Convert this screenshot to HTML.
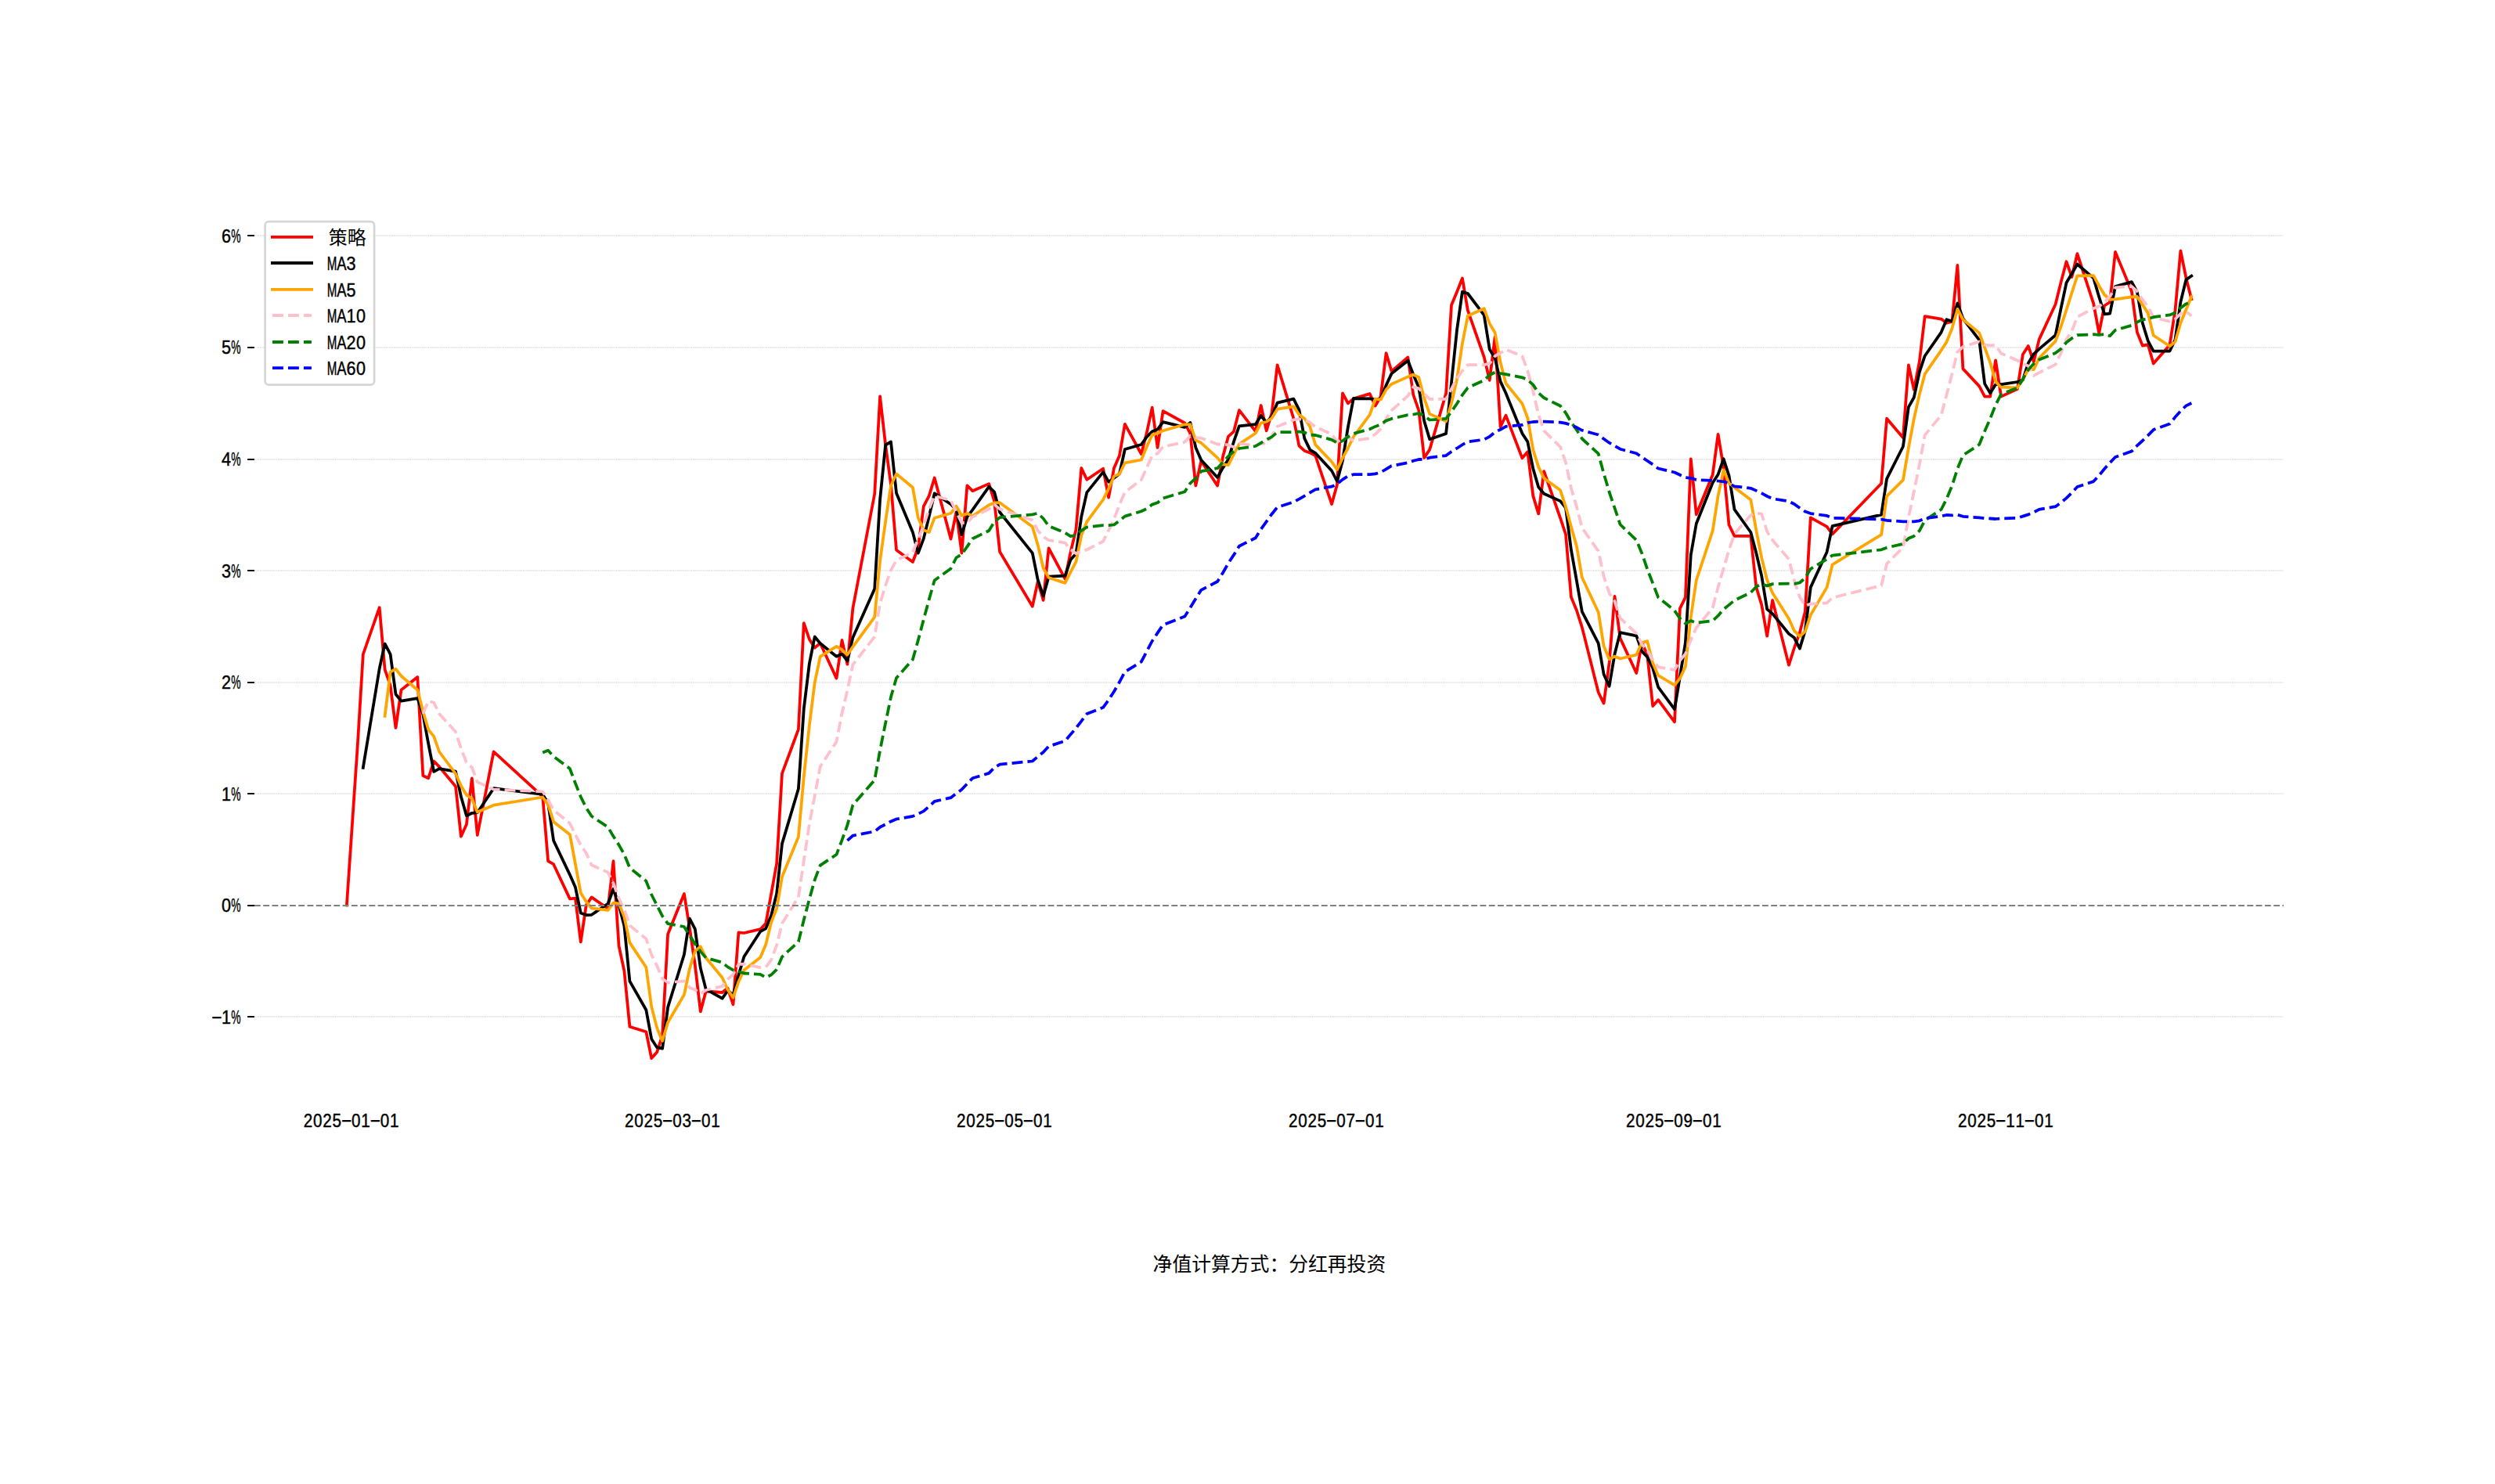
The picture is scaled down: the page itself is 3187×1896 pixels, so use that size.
<!DOCTYPE html>
<html lang="zh"><head><meta charset="utf-8"><title>策略</title>
<style>html,body{margin:0;padding:0;background:#fff}svg{display:block}text{font-family:"Liberation Sans","Noto Sans CJK SC",sans-serif;fill:#000;stroke:#000;stroke-width:0.45px}.cj{font-family:"Liberation Sans","Noto Sans CJK SC",sans-serif;stroke:none}</style></head><body>
<svg width="3187" height="1896" viewBox="0 0 3187 1896">
<rect width="3187" height="1896" fill="#fff"/>
<g stroke="#e1e1e1" stroke-width="2" stroke-dasharray="1 0.92" fill="none">
<line x1="326.2" x2="2916.7" y1="1299" y2="1299"/>
<line x1="326.2" x2="2916.7" y1="1014" y2="1014"/>
<line x1="326.2" x2="2916.7" y1="872" y2="872"/>
<line x1="326.2" x2="2916.7" y1="729" y2="729"/>
<line x1="326.2" x2="2916.7" y1="587" y2="587"/>
<line x1="326.2" x2="2916.7" y1="444" y2="444"/>
<line x1="326.2" x2="2916.7" y1="301" y2="301"/>
</g>
<g stroke="#000" stroke-width="2">
<line x1="316.1" x2="325.0" y1="1299" y2="1299"/>
<line x1="316.1" x2="325.0" y1="1157" y2="1157"/>
<line x1="316.1" x2="325.0" y1="1014" y2="1014"/>
<line x1="316.1" x2="325.0" y1="872" y2="872"/>
<line x1="316.1" x2="325.0" y1="729" y2="729"/>
<line x1="316.1" x2="325.0" y1="587" y2="587"/>
<line x1="316.1" x2="325.0" y1="444" y2="444"/>
<line x1="316.1" x2="325.0" y1="301" y2="301"/>
</g>
<text y="1307.7" font-size="24" text-anchor="middle"><tspan x="276.88" dy="-1.3" textLength="14.3" lengthAdjust="spacingAndGlyphs">-</tspan><tspan x="289.12" dy="1.3" textLength="12.0" lengthAdjust="spacingAndGlyphs">1</tspan><tspan x="301.38" textLength="12.3" lengthAdjust="spacingAndGlyphs">%</tspan></text>
<text y="1164.7" font-size="24" text-anchor="middle"><tspan x="289.12" textLength="12.0" lengthAdjust="spacingAndGlyphs">0</tspan><tspan x="301.38" textLength="12.3" lengthAdjust="spacingAndGlyphs">%</tspan></text>
<text y="1022.7" font-size="24" text-anchor="middle"><tspan x="289.12" textLength="12.0" lengthAdjust="spacingAndGlyphs">1</tspan><tspan x="301.38" textLength="12.3" lengthAdjust="spacingAndGlyphs">%</tspan></text>
<text y="879.7" font-size="24" text-anchor="middle"><tspan x="289.12" textLength="12.0" lengthAdjust="spacingAndGlyphs">2</tspan><tspan x="301.38" textLength="12.3" lengthAdjust="spacingAndGlyphs">%</tspan></text>
<text y="737.7" font-size="24" text-anchor="middle"><tspan x="289.12" textLength="12.0" lengthAdjust="spacingAndGlyphs">3</tspan><tspan x="301.38" textLength="12.3" lengthAdjust="spacingAndGlyphs">%</tspan></text>
<text y="594.7" font-size="24" text-anchor="middle"><tspan x="289.12" textLength="12.0" lengthAdjust="spacingAndGlyphs">4</tspan><tspan x="301.38" textLength="12.3" lengthAdjust="spacingAndGlyphs">%</tspan></text>
<text y="451.7" font-size="24" text-anchor="middle"><tspan x="289.12" textLength="12.0" lengthAdjust="spacingAndGlyphs">5</tspan><tspan x="301.38" textLength="12.3" lengthAdjust="spacingAndGlyphs">%</tspan></text>
<text y="309.7" font-size="24" text-anchor="middle"><tspan x="289.12" textLength="12.0" lengthAdjust="spacingAndGlyphs">6</tspan><tspan x="301.38" textLength="12.3" lengthAdjust="spacingAndGlyphs">%</tspan></text>
<text transform="translate(387.45,1439.50) scale(0.86,1)" font-size="24" text-anchor="middle"><tspan x="7.12 21.37 35.61 49.85">2025</tspan><tspan x="64.10" dy="-1.3" textLength="16.6" lengthAdjust="spacingAndGlyphs">-</tspan><tspan x="78.34 92.59" dy="1.3">01</tspan><tspan x="106.83" dy="-1.3" textLength="16.6" lengthAdjust="spacingAndGlyphs">-</tspan><tspan x="121.08 135.32" dy="1.3">01</tspan></text>
<text transform="translate(797.56,1439.50) scale(0.86,1)" font-size="24" text-anchor="middle"><tspan x="7.12 21.37 35.61 49.85">2025</tspan><tspan x="64.10" dy="-1.3" textLength="16.6" lengthAdjust="spacingAndGlyphs">-</tspan><tspan x="78.34 92.59" dy="1.3">03</tspan><tspan x="106.83" dy="-1.3" textLength="16.6" lengthAdjust="spacingAndGlyphs">-</tspan><tspan x="121.08 135.32" dy="1.3">01</tspan></text>
<text transform="translate(1221.57,1439.50) scale(0.86,1)" font-size="24" text-anchor="middle"><tspan x="7.12 21.37 35.61 49.85">2025</tspan><tspan x="64.10" dy="-1.3" textLength="16.6" lengthAdjust="spacingAndGlyphs">-</tspan><tspan x="78.34 92.59" dy="1.3">05</tspan><tspan x="106.83" dy="-1.3" textLength="16.6" lengthAdjust="spacingAndGlyphs">-</tspan><tspan x="121.08 135.32" dy="1.3">01</tspan></text>
<text transform="translate(1645.58,1439.50) scale(0.86,1)" font-size="24" text-anchor="middle"><tspan x="7.12 21.37 35.61 49.85">2025</tspan><tspan x="64.10" dy="-1.3" textLength="16.6" lengthAdjust="spacingAndGlyphs">-</tspan><tspan x="78.34 92.59" dy="1.3">07</tspan><tspan x="106.83" dy="-1.3" textLength="16.6" lengthAdjust="spacingAndGlyphs">-</tspan><tspan x="121.08 135.32" dy="1.3">01</tspan></text>
<text transform="translate(2076.54,1439.50) scale(0.86,1)" font-size="24" text-anchor="middle"><tspan x="7.12 21.37 35.61 49.85">2025</tspan><tspan x="64.10" dy="-1.3" textLength="16.6" lengthAdjust="spacingAndGlyphs">-</tspan><tspan x="78.34 92.59" dy="1.3">09</tspan><tspan x="106.83" dy="-1.3" textLength="16.6" lengthAdjust="spacingAndGlyphs">-</tspan><tspan x="121.08 135.32" dy="1.3">01</tspan></text>
<text transform="translate(2500.55,1439.50) scale(0.86,1)" font-size="24" text-anchor="middle"><tspan x="7.12 21.37 35.61 49.85">2025</tspan><tspan x="64.10" dy="-1.3" textLength="16.6" lengthAdjust="spacingAndGlyphs">-</tspan><tspan x="78.34 92.59" dy="1.3">11</tspan><tspan x="106.83" dy="-1.3" textLength="16.6" lengthAdjust="spacingAndGlyphs">-</tspan><tspan x="121.08 135.32" dy="1.3">01</tspan></text>
<polyline points="442.9,1156.4 456.9,950.2 463.8,836.0 484.7,776.2 491.6,855.4 498.6,875.7 505.5,929.9 512.5,881.4 533.3,865.1 540.3,991.0 547.2,994.3 554.2,972.5 561.1,979.6 582.0,1004.8 588.9,1068.7 595.9,1053.3 602.8,994.3 609.8,1067.0 630.6,960.4 693.2,1017.7 700.1,1100.2 707.1,1104.2 727.9,1148.4 734.9,1147.6 741.8,1203.4 748.8,1156.4 755.7,1146.4 776.6,1160.8 783.5,1100.2 790.5,1208.3 797.4,1240.7 804.4,1311.8 825.3,1318.2 832.2,1352.1 839.2,1344.2 846.1,1322.9 853.1,1193.5 873.9,1142.0 880.9,1185.6 887.8,1232.7 894.8,1292.4 901.7,1266.5 922.6,1268.0 929.5,1262.5 936.5,1283.4 943.4,1191.3 950.4,1192.0 971.2,1187.2 978.2,1179.9 985.1,1142.1 992.1,1103.4 999.0,988.2 1019.9,931.9 1026.8,796.1 1033.8,816.7 1040.7,827.6 1047.7,821.8 1068.5,866.6 1075.5,817.9 1082.4,848.7 1089.4,777.0 1117.2,631.0 1124.1,506.3 1131.1,568.3 1138.0,618.9 1145.0,702.7 1165.9,718.0 1172.8,699.5 1179.8,646.9 1186.7,633.6 1193.7,610.5 1214.5,688.6 1221.5,654.1 1228.4,706.6 1235.4,620.3 1242.3,627.2 1263.2,618.1 1270.1,640.3 1277.1,705.0 1318.8,774.7 1325.7,742.9 1332.7,766.9 1339.6,700.3 1360.5,739.7 1367.4,705.9 1374.4,676.8 1381.3,598.0 1388.3,612.8 1409.1,598.8 1416.1,635.6 1423.0,598.0 1430.0,582.1 1436.9,541.8 1457.8,580.0 1464.7,553.3 1471.7,520.7 1478.6,571.9 1485.6,525.1 1513.4,540.5 1520.4,554.0 1527.3,620.5 1534.3,589.0 1555.1,620.5 1562.1,583.3 1569.0,557.6 1576.0,551.3 1582.9,524.1 1603.8,551.2 1610.7,518.0 1617.7,550.3 1624.6,527.5 1631.6,466.4 1652.4,534.8 1659.4,569.6 1666.3,575.9 1673.3,578.4 1680.2,582.0 1701.1,644.1 1708.0,618.9 1715.0,502.3 1721.9,515.4 1728.9,509.3 1749.7,503.1 1756.7,518.5 1763.6,506.7 1770.6,451.1 1777.5,474.3 1798.4,456.5 1805.3,504.3 1812.3,524.5 1819.2,585.0 1826.2,574.4 1847.1,502.6 1854.0,389.7 1861.0,373.0 1867.9,355.4 1874.9,396.6 1895.7,456.1 1902.7,485.9 1909.6,430.7 1916.6,545.5 1923.5,530.7 1944.4,585.3 1951.3,577.3 1958.3,633.6 1965.2,656.4 1972.2,602.1 1993.0,661.7 2000.0,682.6 2006.9,762.9 2013.9,779.7 2020.8,801.4 2041.7,884.5 2048.6,898.6 2055.6,847.0 2062.5,761.8 2069.5,815.4 2090.3,860.0 2097.3,821.1 2104.2,837.0 2111.2,902.1 2118.1,894.2 2139.0,922.3 2145.9,777.3 2152.9,763.2 2159.8,586.4 2166.8,657.3 2187.7,606.5 2194.6,554.8 2201.6,597.5 2208.5,670.5 2215.5,684.8 2236.3,684.8 2243.3,750.1 2250.2,772.6 2257.2,812.7 2264.1,766.9 2285.0,849.7 2291.9,827.8 2298.9,808.4 2305.8,781.4 2312.8,661.4 2333.6,672.8 2340.6,682.4 2403.1,617.8 2410.1,534.7 2430.9,559.2 2437.9,466.4 2444.8,497.9 2451.8,462.1 2458.7,404.2 2479.6,407.6 2486.5,412.8 2493.5,411.0 2500.4,338.8 2507.4,471.1 2528.2,493.4 2535.2,506.6 2542.2,506.6 2549.1,460.4 2556.1,506.6 2576.9,497.0 2583.9,452.7 2590.8,442.1 2597.8,462.1 2604.7,433.6 2625.6,388.8 2632.5,360.9 2639.5,334.2 2646.4,354.0 2653.4,324.2 2674.2,387.9 2681.2,425.7 2688.1,390.5 2695.1,386.0 2702.0,321.9 2722.9,372.3 2729.8,424.2 2736.8,441.6 2743.7,440.1 2750.7,464.5 2771.5,440.8 2778.5,396.5 2785.4,320.4 2792.4,355.2 2799.3,382.2" fill="none" stroke="#ff0000" stroke-width="3.76" stroke-linejoin="round" stroke-linecap="square"/>
<polyline points="463.8,980.9 484.7,854.2 491.6,822.5 498.6,835.8 505.5,887.0 512.5,895.6 533.3,892.1 540.3,912.5 547.2,950.1 554.2,985.9 561.1,982.1 582.0,985.6 588.9,1017.7 595.9,1042.3 602.8,1038.8 609.8,1038.2 630.6,1007.2 693.2,1015.0 700.1,1026.1 707.1,1074.0 727.9,1117.6 734.9,1133.4 741.8,1166.5 748.8,1169.1 755.7,1168.8 776.6,1154.5 783.5,1135.8 790.5,1156.4 797.4,1183.1 804.4,1253.6 825.3,1290.2 832.2,1327.4 839.2,1338.2 846.1,1339.7 853.1,1286.9 873.9,1219.5 880.9,1173.7 887.8,1186.8 894.8,1236.9 901.7,1263.9 922.6,1275.6 929.5,1265.7 936.5,1271.3 943.4,1245.7 950.4,1222.3 971.2,1190.2 978.2,1186.4 985.1,1169.8 992.1,1141.8 999.0,1077.9 1019.9,1007.8 1026.8,905.4 1033.8,848.2 1040.7,813.5 1047.7,822.0 1068.5,838.7 1075.5,835.4 1082.4,844.4 1089.4,814.6 1117.2,752.3 1124.1,638.1 1131.1,568.5 1138.0,564.5 1145.0,630.0 1165.9,679.9 1172.8,706.7 1179.8,688.1 1186.7,660.0 1193.7,630.3 1214.5,644.2 1221.5,651.1 1228.4,683.1 1235.4,660.4 1242.3,651.4 1263.2,621.9 1270.1,628.5 1277.1,654.5 1318.8,706.7 1325.7,740.9 1332.7,761.5 1339.6,736.7 1360.5,735.6 1367.4,715.3 1374.4,707.4 1381.3,660.2 1388.3,629.2 1409.1,603.2 1416.1,615.7 1423.0,610.8 1430.0,605.2 1436.9,574.0 1457.8,568.0 1464.7,558.4 1471.7,551.3 1478.6,548.6 1485.6,539.2 1513.4,545.8 1520.4,539.9 1527.3,571.7 1534.3,587.8 1555.1,610.0 1562.1,597.6 1569.0,587.1 1576.0,564.1 1582.9,544.3 1603.8,542.2 1610.7,531.1 1617.7,539.8 1624.6,531.9 1631.6,514.7 1652.4,509.6 1659.4,523.6 1666.3,560.1 1673.3,574.6 1680.2,578.8 1701.1,601.5 1708.0,615.0 1715.0,588.4 1721.9,545.5 1728.9,509.0 1749.7,509.3 1756.7,510.3 1763.6,509.5 1770.6,492.1 1777.5,477.4 1798.4,460.7 1805.3,478.4 1812.3,495.1 1819.2,537.9 1826.2,561.3 1847.1,554.0 1854.0,488.9 1861.0,421.7 1867.9,372.7 1874.9,375.0 1895.7,402.7 1902.7,446.2 1909.6,457.6 1916.6,487.4 1923.5,502.3 1944.4,553.8 1951.3,564.4 1958.3,598.7 1965.2,622.4 1972.2,630.7 1993.0,640.1 2000.0,648.8 2006.9,702.4 2013.9,741.8 2020.8,781.3 2041.7,821.9 2048.6,861.5 2055.6,876.7 2062.5,835.8 2069.5,808.1 2090.3,812.4 2097.3,832.1 2104.2,839.4 2111.2,853.4 2118.1,877.8 2139.0,906.2 2145.9,864.6 2152.9,820.9 2159.8,709.0 2166.8,669.0 2187.7,616.7 2194.6,606.2 2201.6,586.3 2208.5,607.6 2215.5,650.9 2236.3,680.0 2243.3,706.5 2250.2,735.8 2257.2,778.4 2264.1,784.1 2285.0,809.8 2291.9,814.8 2298.9,828.6 2305.8,805.9 2312.8,750.4 2333.6,705.2 2340.6,672.2 2403.1,657.6 2410.1,611.6 2430.9,570.5 2437.9,520.1 2444.8,507.8 2451.8,475.4 2458.7,454.7 2479.6,424.6 2486.5,408.2 2493.5,410.5 2500.4,387.5 2507.4,407.0 2528.2,434.4 2535.2,490.4 2542.2,502.2 2549.1,491.2 2556.1,491.2 2576.9,488.0 2583.9,485.4 2590.8,463.9 2597.8,452.3 2604.7,445.9 2625.6,428.2 2632.5,394.4 2639.5,361.3 2646.4,349.7 2653.4,337.5 2674.2,355.4 2681.2,379.3 2688.1,401.4 2695.1,400.7 2702.0,366.1 2722.9,360.1 2729.8,372.8 2736.8,412.7 2743.7,435.3 2750.7,448.7 2771.5,448.5 2778.5,434.0 2785.4,385.9 2792.4,357.3 2799.3,352.6" fill="none" stroke="#000000" stroke-width="3.76" stroke-linejoin="round" stroke-linecap="square"/>
<polyline points="491.6,914.9 498.6,858.7 505.5,854.6 512.5,863.7 533.3,881.5 540.3,908.6 547.2,932.3 554.2,940.9 561.1,960.5 582.0,988.5 588.9,1004.0 595.9,1015.8 602.8,1020.2 609.8,1037.6 630.6,1028.7 693.2,1018.5 700.1,1027.9 707.1,1049.9 727.9,1066.2 734.9,1103.6 741.8,1140.8 748.8,1152.0 755.7,1160.4 776.6,1162.9 783.5,1153.5 790.5,1154.4 797.4,1171.3 804.4,1204.4 825.3,1235.8 832.2,1286.2 839.2,1313.4 846.1,1329.9 853.1,1306.2 873.9,1270.9 880.9,1237.6 887.8,1215.3 894.8,1209.2 901.7,1223.8 922.6,1249.0 929.5,1264.4 936.5,1274.6 943.4,1254.3 950.4,1239.5 971.2,1223.3 978.2,1206.8 985.1,1178.5 992.1,1160.9 999.0,1120.2 1019.9,1069.1 1026.8,992.3 1033.8,927.2 1040.7,872.1 1047.7,838.8 1068.5,825.8 1075.5,830.1 1082.4,836.5 1089.4,826.4 1117.2,788.3 1124.1,716.2 1131.1,666.3 1138.0,620.3 1145.0,605.5 1165.9,622.8 1172.8,661.5 1179.8,677.2 1186.7,680.1 1193.7,661.7 1214.5,655.8 1221.5,646.7 1228.4,658.7 1235.4,656.0 1242.3,659.4 1263.2,645.3 1270.1,642.5 1277.1,642.2 1318.8,673.1 1325.7,696.2 1332.7,726.0 1339.6,738.0 1360.5,744.9 1367.4,731.1 1374.4,717.9 1381.3,684.1 1388.3,666.6 1409.1,638.4 1416.1,624.4 1423.0,608.6 1430.0,605.5 1436.9,591.3 1457.8,587.5 1464.7,571.0 1471.7,555.6 1478.6,553.5 1485.6,550.2 1513.4,542.3 1520.4,542.4 1527.3,562.4 1534.3,565.8 1555.1,584.9 1562.1,593.4 1569.0,594.2 1576.0,580.3 1582.9,567.4 1603.8,553.5 1610.7,540.4 1617.7,539.0 1624.6,534.2 1631.6,522.7 1652.4,519.4 1659.4,529.7 1666.3,534.8 1673.3,545.0 1680.2,568.1 1701.1,590.0 1708.0,599.9 1715.0,585.2 1721.9,572.5 1728.9,558.0 1749.7,529.8 1756.7,509.7 1763.6,510.6 1770.6,497.8 1777.5,490.8 1798.4,481.4 1805.3,478.6 1812.3,482.2 1819.2,508.9 1826.2,528.9 1847.1,538.2 1854.0,515.2 1861.0,484.9 1867.9,439.0 1874.9,403.5 1895.7,394.2 1902.7,413.4 1909.6,425.0 1916.6,463.0 1923.5,489.8 1944.4,515.6 1951.3,533.9 1958.3,574.5 1965.2,596.6 1972.2,610.9 1993.0,626.2 2000.0,647.3 2006.9,673.1 2013.9,697.8 2020.8,737.7 2041.7,782.2 2048.6,825.4 2055.6,842.3 2062.5,838.7 2069.5,841.5 2090.3,836.6 2097.3,821.0 2104.2,819.1 2111.2,847.1 2118.1,862.9 2139.0,875.3 2145.9,866.6 2152.9,851.8 2159.8,788.7 2166.8,741.3 2187.7,678.1 2194.6,633.6 2201.6,600.5 2208.5,617.3 2215.5,622.8 2236.3,638.5 2243.3,677.5 2250.2,712.6 2257.2,741.0 2264.1,757.4 2285.0,790.4 2291.9,805.9 2298.9,813.1 2305.8,806.8 2312.8,785.7 2333.6,750.4 2340.6,721.3 2403.1,683.2 2410.1,633.8 2430.9,613.4 2437.9,572.1 2444.8,535.2 2451.8,504.0 2458.7,477.9 2479.6,447.6 2486.5,436.9 2493.5,419.5 2500.4,394.9 2507.4,408.2 2528.2,425.4 2535.2,444.2 2542.2,463.3 2549.1,487.6 2556.1,494.7 2576.9,495.4 2583.9,484.6 2590.8,471.8 2597.8,472.1 2604.7,457.5 2625.6,435.9 2632.5,417.5 2639.5,395.9 2646.4,374.3 2653.4,352.4 2674.2,352.2 2681.2,365.2 2688.1,376.5 2695.1,382.9 2702.0,382.4 2722.9,379.3 2729.8,379.0 2736.8,389.2 2743.7,400.0 2750.7,428.5 2771.5,442.2 2778.5,436.7 2785.4,412.5 2792.4,395.5 2799.3,379.0" fill="none" stroke="#ffa500" stroke-width="3.76" stroke-linejoin="round" stroke-linecap="square"/>
<polyline points="540.3,911.7 547.2,895.5 554.2,897.7 561.1,912.1 582.0,935.0 588.9,956.3 595.9,974.1 602.8,980.5 609.8,999.1 630.6,1008.6 693.2,1011.3 700.1,1021.9 707.1,1035.0 727.9,1051.9 734.9,1066.2 741.8,1079.7 748.8,1090.0 755.7,1105.2 776.6,1114.6 783.5,1128.5 790.5,1147.6 797.4,1161.6 804.4,1182.4 825.3,1199.4 832.2,1219.8 839.2,1233.9 846.1,1250.6 853.1,1255.3 873.9,1253.4 880.9,1261.9 887.8,1264.4 894.8,1269.5 901.7,1265.0 922.6,1260.0 929.5,1251.0 936.5,1245.0 943.4,1231.8 950.4,1231.6 971.2,1236.2 978.2,1235.6 985.1,1226.5 992.1,1207.6 999.0,1179.8 1019.9,1146.2 1026.8,1099.6 1033.8,1052.9 1040.7,1016.5 1047.7,979.5 1068.5,947.4 1075.5,911.2 1082.4,881.9 1089.4,849.2 1117.2,813.5 1124.1,771.0 1131.1,748.2 1138.0,728.4 1145.0,715.9 1165.9,705.6 1172.8,688.8 1179.8,671.7 1186.7,650.2 1193.7,633.6 1214.5,639.3 1221.5,654.1 1228.4,667.9 1235.4,668.1 1242.3,660.5 1263.2,650.5 1270.1,644.6 1277.1,650.4 1318.8,664.5 1325.7,677.8 1332.7,685.6 1339.6,690.2 1360.5,693.5 1367.4,702.1 1374.4,707.1 1381.3,705.1 1388.3,702.3 1409.1,691.7 1416.1,677.8 1423.0,663.3 1430.0,644.8 1436.9,628.9 1457.8,613.0 1464.7,597.7 1471.7,582.1 1478.6,579.5 1485.6,570.7 1513.4,564.9 1520.4,556.7 1527.3,559.0 1534.3,559.7 1555.1,567.5 1562.1,567.9 1569.0,568.3 1576.0,571.4 1582.9,566.6 1603.8,569.2 1610.7,566.9 1617.7,566.6 1624.6,557.3 1631.6,545.0 1652.4,536.4 1659.4,535.1 1666.3,536.9 1673.3,539.6 1680.2,545.4 1701.1,554.7 1708.0,564.8 1715.0,560.0 1721.9,558.8 1728.9,563.1 1749.7,559.9 1756.7,554.8 1763.6,547.9 1770.6,535.2 1777.5,524.4 1798.4,505.6 1805.3,494.2 1812.3,496.4 1819.2,503.3 1826.2,509.9 1847.1,509.8 1854.0,496.9 1861.0,483.5 1867.9,474.0 1874.9,466.2 1895.7,466.2 1902.7,464.3 1909.6,454.9 1916.6,451.0 1923.5,446.6 1944.4,454.9 1951.3,473.6 1958.3,499.7 1965.2,529.8 1972.2,550.3 1993.0,570.9 2000.0,590.6 2006.9,623.8 2013.9,647.2 2020.8,674.3 2041.7,704.2 2048.6,736.4 2055.6,757.7 2062.5,768.2 2069.5,789.6 2090.3,809.4 2097.3,823.2 2104.2,830.7 2111.2,842.9 2118.1,852.2 2139.0,855.9 2145.9,843.8 2152.9,835.4 2159.8,817.9 2166.8,802.1 2187.7,776.7 2194.6,750.1 2201.6,726.2 2208.5,703.0 2215.5,682.1 2236.3,658.3 2243.3,655.6 2250.2,656.5 2257.2,679.1 2264.1,690.1 2285.0,714.4 2291.9,741.7 2298.9,762.8 2305.8,773.9 2312.8,771.6 2333.6,770.4 2340.6,763.6 2403.1,748.1 2410.1,720.3 2430.9,699.5 2437.9,661.2 2444.8,628.2 2451.8,593.6 2458.7,555.9 2479.6,530.5 2486.5,504.5 2493.5,477.4 2500.4,449.5 2507.4,443.1 2528.2,436.5 2535.2,440.5 2542.2,441.4 2549.1,441.2 2556.1,451.5 2576.9,460.4 2583.9,464.4 2590.8,467.5 2597.8,479.8 2604.7,476.1 2625.6,465.6 2632.5,451.1 2639.5,433.8 2646.4,423.2 2653.4,405.0 2674.2,394.0 2681.2,391.4 2688.1,386.2 2695.1,378.6 2702.0,367.4 2722.9,365.8 2729.8,372.1 2736.8,382.8 2743.7,391.4 2750.7,405.5 2771.5,410.8 2778.5,407.8 2785.4,400.8 2792.4,397.7 2799.3,403.8" fill="none" stroke="#ffc0cb" stroke-width="3.76" stroke-linejoin="round" stroke-dasharray="13.9 6.05" stroke-linecap="butt"/>
<polyline points="693.2,961.5 700.1,958.7 707.1,966.4 727.9,982.0 734.9,1000.6 741.8,1018.0 748.8,1032.0 755.7,1042.8 776.6,1056.8 783.5,1068.6 790.5,1079.4 797.4,1091.8 804.4,1108.7 825.3,1125.6 832.2,1143.0 839.2,1156.8 846.1,1170.3 853.1,1180.2 873.9,1184.0 880.9,1195.2 887.8,1206.0 894.8,1215.6 901.7,1223.7 922.6,1229.7 929.5,1235.4 936.5,1239.4 943.4,1241.2 950.4,1243.5 971.2,1244.8 978.2,1248.8 985.1,1245.5 992.1,1238.6 999.0,1222.4 1019.9,1203.1 1026.8,1175.3 1033.8,1148.9 1040.7,1124.2 1047.7,1105.6 1068.5,1091.8 1075.5,1073.4 1082.4,1054.2 1089.4,1028.4 1117.2,996.7 1124.1,958.6 1131.1,923.9 1138.0,890.6 1145.0,866.2 1165.9,842.5 1172.8,818.1 1179.8,791.5 1186.7,766.1 1193.7,741.4 1214.5,726.4 1221.5,712.5 1228.4,708.1 1235.4,698.3 1242.3,688.2 1263.2,678.0 1270.1,666.7 1277.1,661.1 1318.8,657.4 1325.7,655.7 1332.7,662.5 1339.6,672.2 1360.5,680.7 1367.4,685.1 1374.4,683.8 1381.3,677.8 1388.3,673.5 1409.1,671.1 1416.1,671.2 1423.0,670.5 1430.0,665.2 1436.9,659.6 1457.8,653.3 1464.7,649.9 1471.7,644.6 1478.6,642.3 1485.6,636.5 1513.4,628.3 1520.4,617.3 1527.3,611.1 1534.3,602.2 1555.1,598.2 1562.1,590.4 1569.0,583.0 1576.0,576.7 1582.9,573.0 1603.8,570.0 1610.7,565.9 1617.7,561.7 1624.6,558.1 1631.6,552.3 1652.4,552.0 1659.4,551.5 1666.3,552.6 1673.3,555.5 1680.2,556.0 1701.1,561.9 1708.0,565.9 1715.0,563.3 1721.9,558.0 1728.9,554.0 1749.7,548.2 1756.7,544.9 1763.6,542.4 1770.6,537.4 1777.5,534.9 1798.4,530.2 1805.3,529.5 1812.3,528.2 1819.2,531.1 1826.2,536.5 1847.1,534.9 1854.0,525.9 1861.0,515.7 1867.9,504.6 1874.9,495.3 1895.7,485.9 1902.7,479.2 1909.6,475.7 1916.6,477.2 1923.5,478.2 1944.4,482.3 1951.3,485.3 1958.3,491.6 1965.2,501.9 1972.2,508.3 1993.0,518.5 2000.0,527.5 2006.9,539.4 2013.9,549.1 2020.8,560.5 2041.7,579.6 2048.6,605.0 2055.6,628.7 2062.5,649.0 2069.5,670.0 2090.3,690.2 2097.3,706.9 2104.2,727.2 2111.2,745.1 2118.1,763.2 2139.0,780.1 2145.9,790.1 2152.9,796.6 2159.8,793.1 2166.8,795.8 2187.7,793.1 2194.6,786.7 2201.6,778.4 2208.5,772.9 2215.5,767.1 2236.3,757.1 2243.3,749.7 2250.2,746.0 2257.2,748.5 2264.1,746.1 2285.0,745.6 2291.9,745.9 2298.9,744.5 2305.8,738.5 2312.8,726.8 2333.6,714.3 2340.6,709.6 2403.1,702.3 2410.1,699.7 2430.9,694.8 2437.9,687.8 2444.8,685.0 2451.8,678.2 2458.7,664.9 2479.6,651.0 2486.5,637.4 2493.5,620.5 2500.4,598.8 2507.4,581.7 2528.2,568.0 2535.2,550.9 2542.2,534.8 2549.1,517.4 2556.1,503.7 2576.9,495.5 2583.9,484.4 2590.8,472.4 2597.8,464.7 2604.7,459.6 2625.6,451.1 2632.5,445.8 2639.5,437.6 2646.4,432.2 2653.4,428.2 2674.2,427.2 2681.2,427.9 2688.1,426.9 2695.1,429.2 2702.0,421.8 2722.9,415.7 2729.8,411.6 2736.8,408.3 2743.7,407.3 2750.7,405.2 2771.5,402.4 2778.5,399.6 2785.4,393.5 2792.4,388.2 2799.3,385.6" fill="none" stroke="#008000" stroke-width="3.76" stroke-linejoin="round" stroke-dasharray="13.9 6.05" stroke-linecap="butt"/>
<polyline points="1082.4,1073.9 1089.4,1067.6 1117.2,1062.3 1124.1,1056.8 1131.1,1053.3 1138.0,1049.4 1145.0,1046.5 1165.9,1042.9 1172.8,1039.9 1179.8,1036.3 1186.7,1030.3 1193.7,1023.9 1214.5,1019.2 1221.5,1013.8 1228.4,1008.8 1235.4,1001.3 1242.3,994.2 1263.2,987.9 1270.1,980.8 1277.1,976.6 1318.8,972.5 1325.7,966.6 1332.7,961.0 1339.6,953.5 1360.5,946.7 1367.4,938.4 1374.4,930.4 1381.3,921.3 1388.3,912.1 1409.1,903.8 1416.1,894.2 1423.0,883.5 1430.0,871.3 1436.9,858.4 1457.8,845.5 1464.7,832.4 1471.7,819.0 1478.6,808.6 1485.6,798.3 1513.4,787.6 1520.4,776.3 1527.3,765.1 1534.3,753.8 1555.1,743.0 1562.1,731.7 1569.0,719.6 1576.0,708.9 1582.9,697.8 1603.8,687.2 1610.7,676.2 1617.7,666.3 1624.6,656.7 1631.6,648.0 1652.4,641.4 1659.4,637.6 1666.3,633.6 1673.3,629.4 1680.2,625.4 1701.1,621.7 1708.0,618.4 1715.0,612.6 1721.9,608.3 1728.9,606.2 1749.7,606.2 1756.7,605.4 1763.6,603.5 1770.6,599.3 1777.5,595.2 1798.4,591.2 1805.3,588.8 1812.3,587.0 1819.2,586.6 1826.2,584.7 1847.1,582.1 1854.0,576.9 1861.0,572.7 1867.9,568.2 1874.9,564.5 1895.7,561.5 1902.7,557.8 1909.6,552.1 1916.6,548.8 1923.5,544.8 1944.4,542.9 1951.3,540.2 1958.3,539.0 1965.2,538.7 1972.2,538.7 1993.0,539.6 2000.0,540.9 2006.9,543.1 2013.9,546.1 2020.8,549.8 2041.7,555.5 2048.6,560.8 2055.6,565.7 2062.5,569.7 2069.5,573.7 2090.3,579.3 2097.3,584.0 2104.2,588.7 2111.2,593.4 2118.1,598.5 2139.0,603.5 2145.9,606.8 2152.9,610.2 2159.8,610.8 2166.8,613.0 2187.7,613.9 2194.6,614.5 2201.6,615.3 2208.5,617.7 2215.5,621.3 2236.3,623.8 2243.3,626.9 2250.2,630.1 2257.2,634.0 2264.1,637.1 2285.0,640.5 2291.9,644.0 2298.9,649.1 2305.8,653.6 2312.8,656.1 2333.6,658.9 2340.6,661.7 2403.1,663.5 2410.1,664.9 2430.9,666.3 2437.9,666.5 2444.8,666.4 2451.8,665.3 2458.7,662.3 2479.6,659.5 2486.5,658.0 2493.5,658.4 2500.4,657.8 2507.4,659.8 2528.2,661.4 2535.2,662.2 2542.2,662.5 2549.1,663.0 2556.1,662.4 2576.9,661.8 2583.9,659.6 2590.8,657.4 2597.8,654.5 2604.7,650.8 2625.6,647.2 2632.5,642.2 2639.5,636.4 2646.4,629.6 2653.4,622.0 2674.2,615.1 2681.2,607.5 2688.1,599.0 2695.1,591.3 2702.0,584.0 2722.9,576.6 2729.8,569.3 2736.8,563.0 2743.7,556.4 2750.7,549.1 2771.5,541.6 2778.5,532.8 2785.4,525.2 2792.4,518.4 2799.3,515.0" fill="none" stroke="#0000ff" stroke-width="3.76" stroke-linejoin="round" stroke-dasharray="13.9 6.05" stroke-linecap="butt"/>
<line x1="324.95" x2="2917.0" y1="1157" y2="1157" stroke="#808080" stroke-width="2.1" stroke-dasharray="7.863 3.400"/>
<rect x="338.6" y="283.1" width="139.5" height="208.6" rx="4.8" ry="4.8" fill="#fff" fill-opacity="0.8" stroke="#cccccc" stroke-opacity="0.8" stroke-width="2.67"/>
<line x1="346" x2="400" y1="302.9" y2="302.9" stroke="#ff0000" stroke-width="3.76"/>
<text class="cj" x="419.8" y="311.9" font-size="24">策略</text>
<line x1="346" x2="400" y1="336.0" y2="336.0" stroke="#000000" stroke-width="3.76"/>
<text y="345.0" font-size="24" text-anchor="middle"><tspan x="424.12" textLength="12.6" lengthAdjust="spacingAndGlyphs">M</tspan><tspan x="436.38" textLength="12.3" lengthAdjust="spacingAndGlyphs">A</tspan><tspan x="448.62" textLength="12.0" lengthAdjust="spacingAndGlyphs">3</tspan></text>
<line x1="346" x2="400" y1="369.8" y2="369.8" stroke="#ffa500" stroke-width="3.76"/>
<text y="378.8" font-size="24" text-anchor="middle"><tspan x="424.12" textLength="12.6" lengthAdjust="spacingAndGlyphs">M</tspan><tspan x="436.38" textLength="12.3" lengthAdjust="spacingAndGlyphs">A</tspan><tspan x="448.62" textLength="12.0" lengthAdjust="spacingAndGlyphs">5</tspan></text>
<line x1="348" x2="397.9" y1="403.0" y2="403.0" stroke="#ffc0cb" stroke-width="3.76" stroke-dasharray="13.9 6.05"/>
<text y="412.0" font-size="24" text-anchor="middle"><tspan x="424.12" textLength="12.6" lengthAdjust="spacingAndGlyphs">M</tspan><tspan x="436.38" textLength="12.3" lengthAdjust="spacingAndGlyphs">A</tspan><tspan x="448.62" textLength="12.0" lengthAdjust="spacingAndGlyphs">1</tspan><tspan x="460.88" textLength="12.0" lengthAdjust="spacingAndGlyphs">0</tspan></text>
<line x1="348" x2="397.9" y1="437.0" y2="437.0" stroke="#008000" stroke-width="3.76" stroke-dasharray="13.9 6.05"/>
<text y="446.0" font-size="24" text-anchor="middle"><tspan x="424.12" textLength="12.6" lengthAdjust="spacingAndGlyphs">M</tspan><tspan x="436.38" textLength="12.3" lengthAdjust="spacingAndGlyphs">A</tspan><tspan x="448.62" textLength="12.0" lengthAdjust="spacingAndGlyphs">2</tspan><tspan x="460.88" textLength="12.0" lengthAdjust="spacingAndGlyphs">0</tspan></text>
<line x1="348" x2="397.9" y1="470.2" y2="470.2" stroke="#0000ff" stroke-width="3.76" stroke-dasharray="13.9 6.05"/>
<text y="479.2" font-size="24" text-anchor="middle"><tspan x="424.12" textLength="12.6" lengthAdjust="spacingAndGlyphs">M</tspan><tspan x="436.38" textLength="12.3" lengthAdjust="spacingAndGlyphs">A</tspan><tspan x="448.62" textLength="12.0" lengthAdjust="spacingAndGlyphs">6</tspan><tspan x="460.88" textLength="12.0" lengthAdjust="spacingAndGlyphs">0</tspan></text>
<text class="cj" x="1621.4" y="1624.3" font-size="24.8" text-anchor="middle">净值计算方式：分红再投资</text>
</svg></body></html>
